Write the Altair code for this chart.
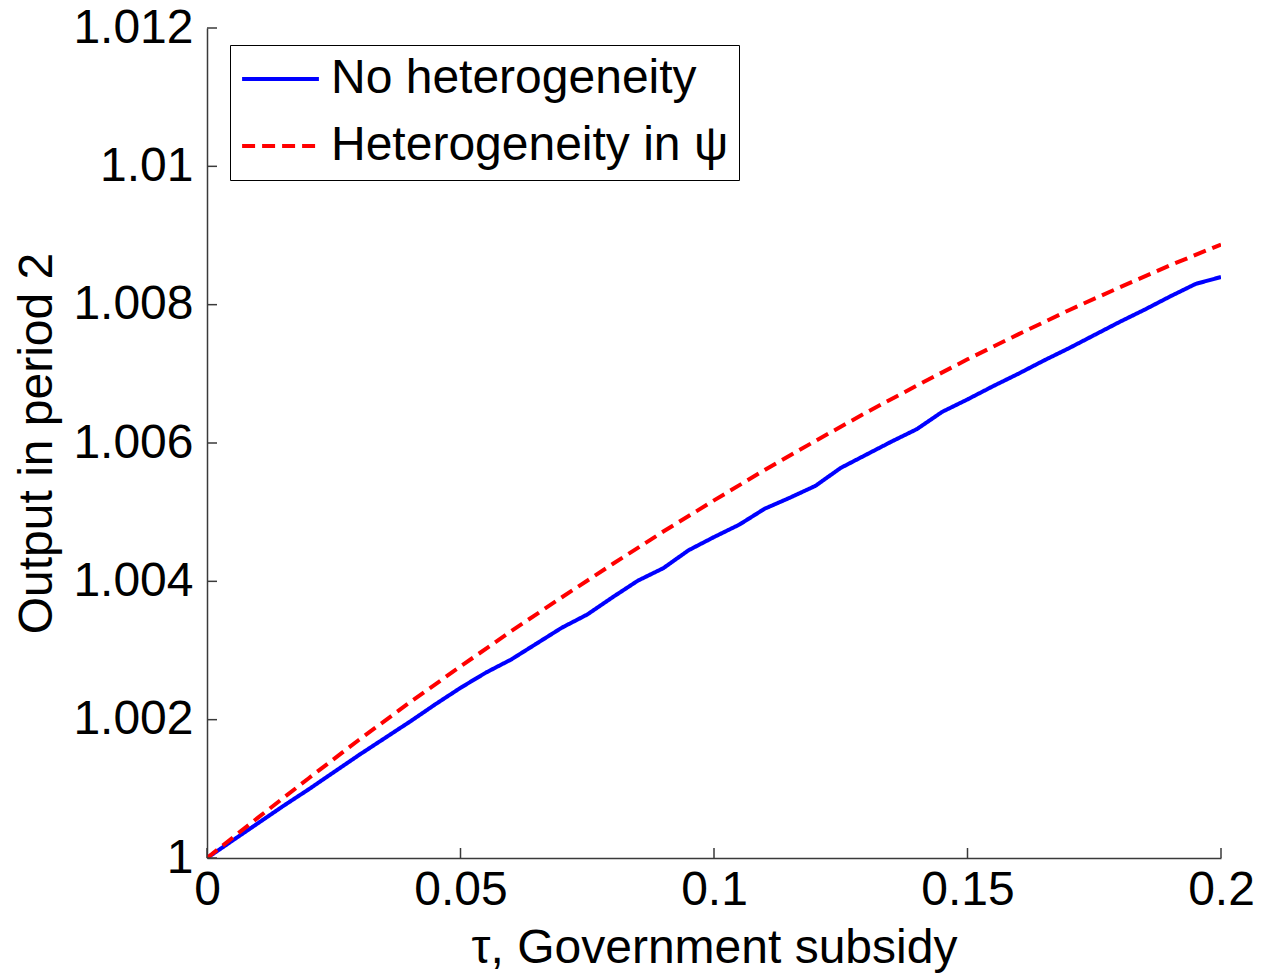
import altair as alt
import pandas as pd

# Subsidy grid and output paths
tau_fine = [0.000, 0.005, 0.010, 0.015, 0.020, 0.025, 0.030, 0.035, 0.040, 0.045,
            0.050, 0.055, 0.060, 0.065, 0.070, 0.075, 0.080, 0.085, 0.090, 0.095,
            0.100, 0.105, 0.110, 0.115, 0.120, 0.125, 0.130, 0.135, 0.140, 0.145,
            0.150, 0.155, 0.160, 0.165, 0.170, 0.175, 0.180, 0.185, 0.190, 0.195,
            0.200]
output_no_het = [1.00000, 1.00025, 1.00050, 1.00075, 1.00099, 1.00124, 1.00149, 1.00173, 1.00197, 1.00222,
                 1.00246, 1.00268, 1.00287, 1.00310, 1.00333, 1.00352, 1.00377, 1.00401, 1.00419, 1.00445,
                 1.00464, 1.00482, 1.00505, 1.00521, 1.00538, 1.00564, 1.00583, 1.00602, 1.00620, 1.00645,
                 1.00663, 1.00682, 1.00700, 1.00719, 1.00737, 1.00756, 1.00775, 1.00793, 1.00812, 1.00830,
                 1.00840]

tau_coarse = [0.00, 0.01, 0.02, 0.03, 0.04, 0.05, 0.06, 0.07, 0.08, 0.09, 0.10,
              0.11, 0.12, 0.13, 0.14, 0.15, 0.16, 0.17, 0.18, 0.19, 0.20]
output_het_psi = [1.00000, 1.00058, 1.00115, 1.00171, 1.00225, 1.00277, 1.00328, 1.00377,
                  1.00425, 1.00472, 1.00517, 1.00561, 1.00603, 1.00644, 1.00683, 1.00721,
                  1.00757, 1.00792, 1.00825, 1.00857, 1.00887]

series_names = ["No heterogeneity", "Heterogeneity in \u03c8"]
series_colors = ["#0000FF", "#FF0000"]
series_dashes = [[1, 0], [13, 7]]

x_ticks = [0, 0.05, 0.1, 0.15, 0.2]
y_ticks = [1.0, 1.002, 1.004, 1.006, 1.008, 1.01, 1.012]

FONT = "Liberation Sans"
AXIS_COLOR = "#3a3a3a"

df = pd.concat([
    pd.DataFrame({"tau": tau_fine, "output": output_no_het, "series": series_names[0]}),
    pd.DataFrame({"tau": tau_coarse, "output": output_het_psi, "series": series_names[1]}),
], ignore_index=True)

x_scale = alt.Scale(domain=[0, 0.2], nice=False, zero=False)
y_scale = alt.Scale(domain=[1.0, 1.012], nice=False, zero=False)

x_axis = alt.Axis(values=x_ticks, format="~g", title="\u03c4, Government subsidy",
                  titleY=90, titleBaseline="middle")
y_axis = alt.Axis(values=y_ticks, format="~g", title="Output in period 2",
                  titleX=-170, titleY=415, titleBaseline="middle", titleAlign="center")

legend_style = dict(orient="none", legendX=23, legendY=17, title=None,
                    symbolType="stroke", symbolSize=5900, symbolStrokeWidth=4,
                    labelFont=FONT, labelFontSize=48, labelColor="black",
                    labelOffset=10, labelLimit=0, padding=10, rowPadding=19,
                    clipHeight=48, strokeColor="black", fillColor="white")

lines = alt.Chart(df).mark_line(strokeWidth=4, clip=True).encode(
    x=alt.X("tau:Q", scale=x_scale, axis=x_axis),
    y=alt.Y("output:Q", scale=y_scale, axis=y_axis),
    color=alt.Color("series:N",
                    scale=alt.Scale(domain=series_names, range=series_colors),
                    legend=alt.Legend(**legend_style)),
    strokeDash=alt.StrokeDash("series:N",
                              scale=alt.Scale(domain=series_names, range=series_dashes),
                              legend=alt.Legend(**legend_style)),
    order=alt.Order("tau:Q"),
)

# Inward-pointing tick marks
y_tick_marks = alt.Chart(pd.DataFrame({"output": y_ticks})).mark_rule(
    color=AXIS_COLOR, strokeWidth=1.5
).encode(
    y=alt.Y("output:Q", scale=y_scale, axis=y_axis),
    x=alt.value(0), x2=alt.value(10),
)
x_tick_marks = alt.Chart(pd.DataFrame({"tau": x_ticks})).mark_rule(
    color=AXIS_COLOR, strokeWidth=1.5
).encode(
    x=alt.X("tau:Q", scale=x_scale, axis=x_axis),
    y=alt.value(830), y2=alt.value(820),
)

chart = alt.layer(lines, y_tick_marks, x_tick_marks).properties(
    width=1014, height=830,
    autosize=alt.AutoSizeParams(type="none"),
    padding={"left": 207, "top": 28, "right": 41, "bottom": 118},
    background="white",
).configure_view(stroke=None).configure_axis(
    grid=False, ticks=False, domainColor=AXIS_COLOR, domainWidth=1.5,
    labelFont=FONT, labelFontSize=48, labelColor="black",
    titleFont=FONT, titleFontSize=48, titleFontWeight="normal", titleColor="black",
).configure_axisX(labelPadding=8, labelFlush=False).configure_axisY(labelPadding=14)

chart.save("out.html", embed_options={"renderer": "svg", "actions": False})
